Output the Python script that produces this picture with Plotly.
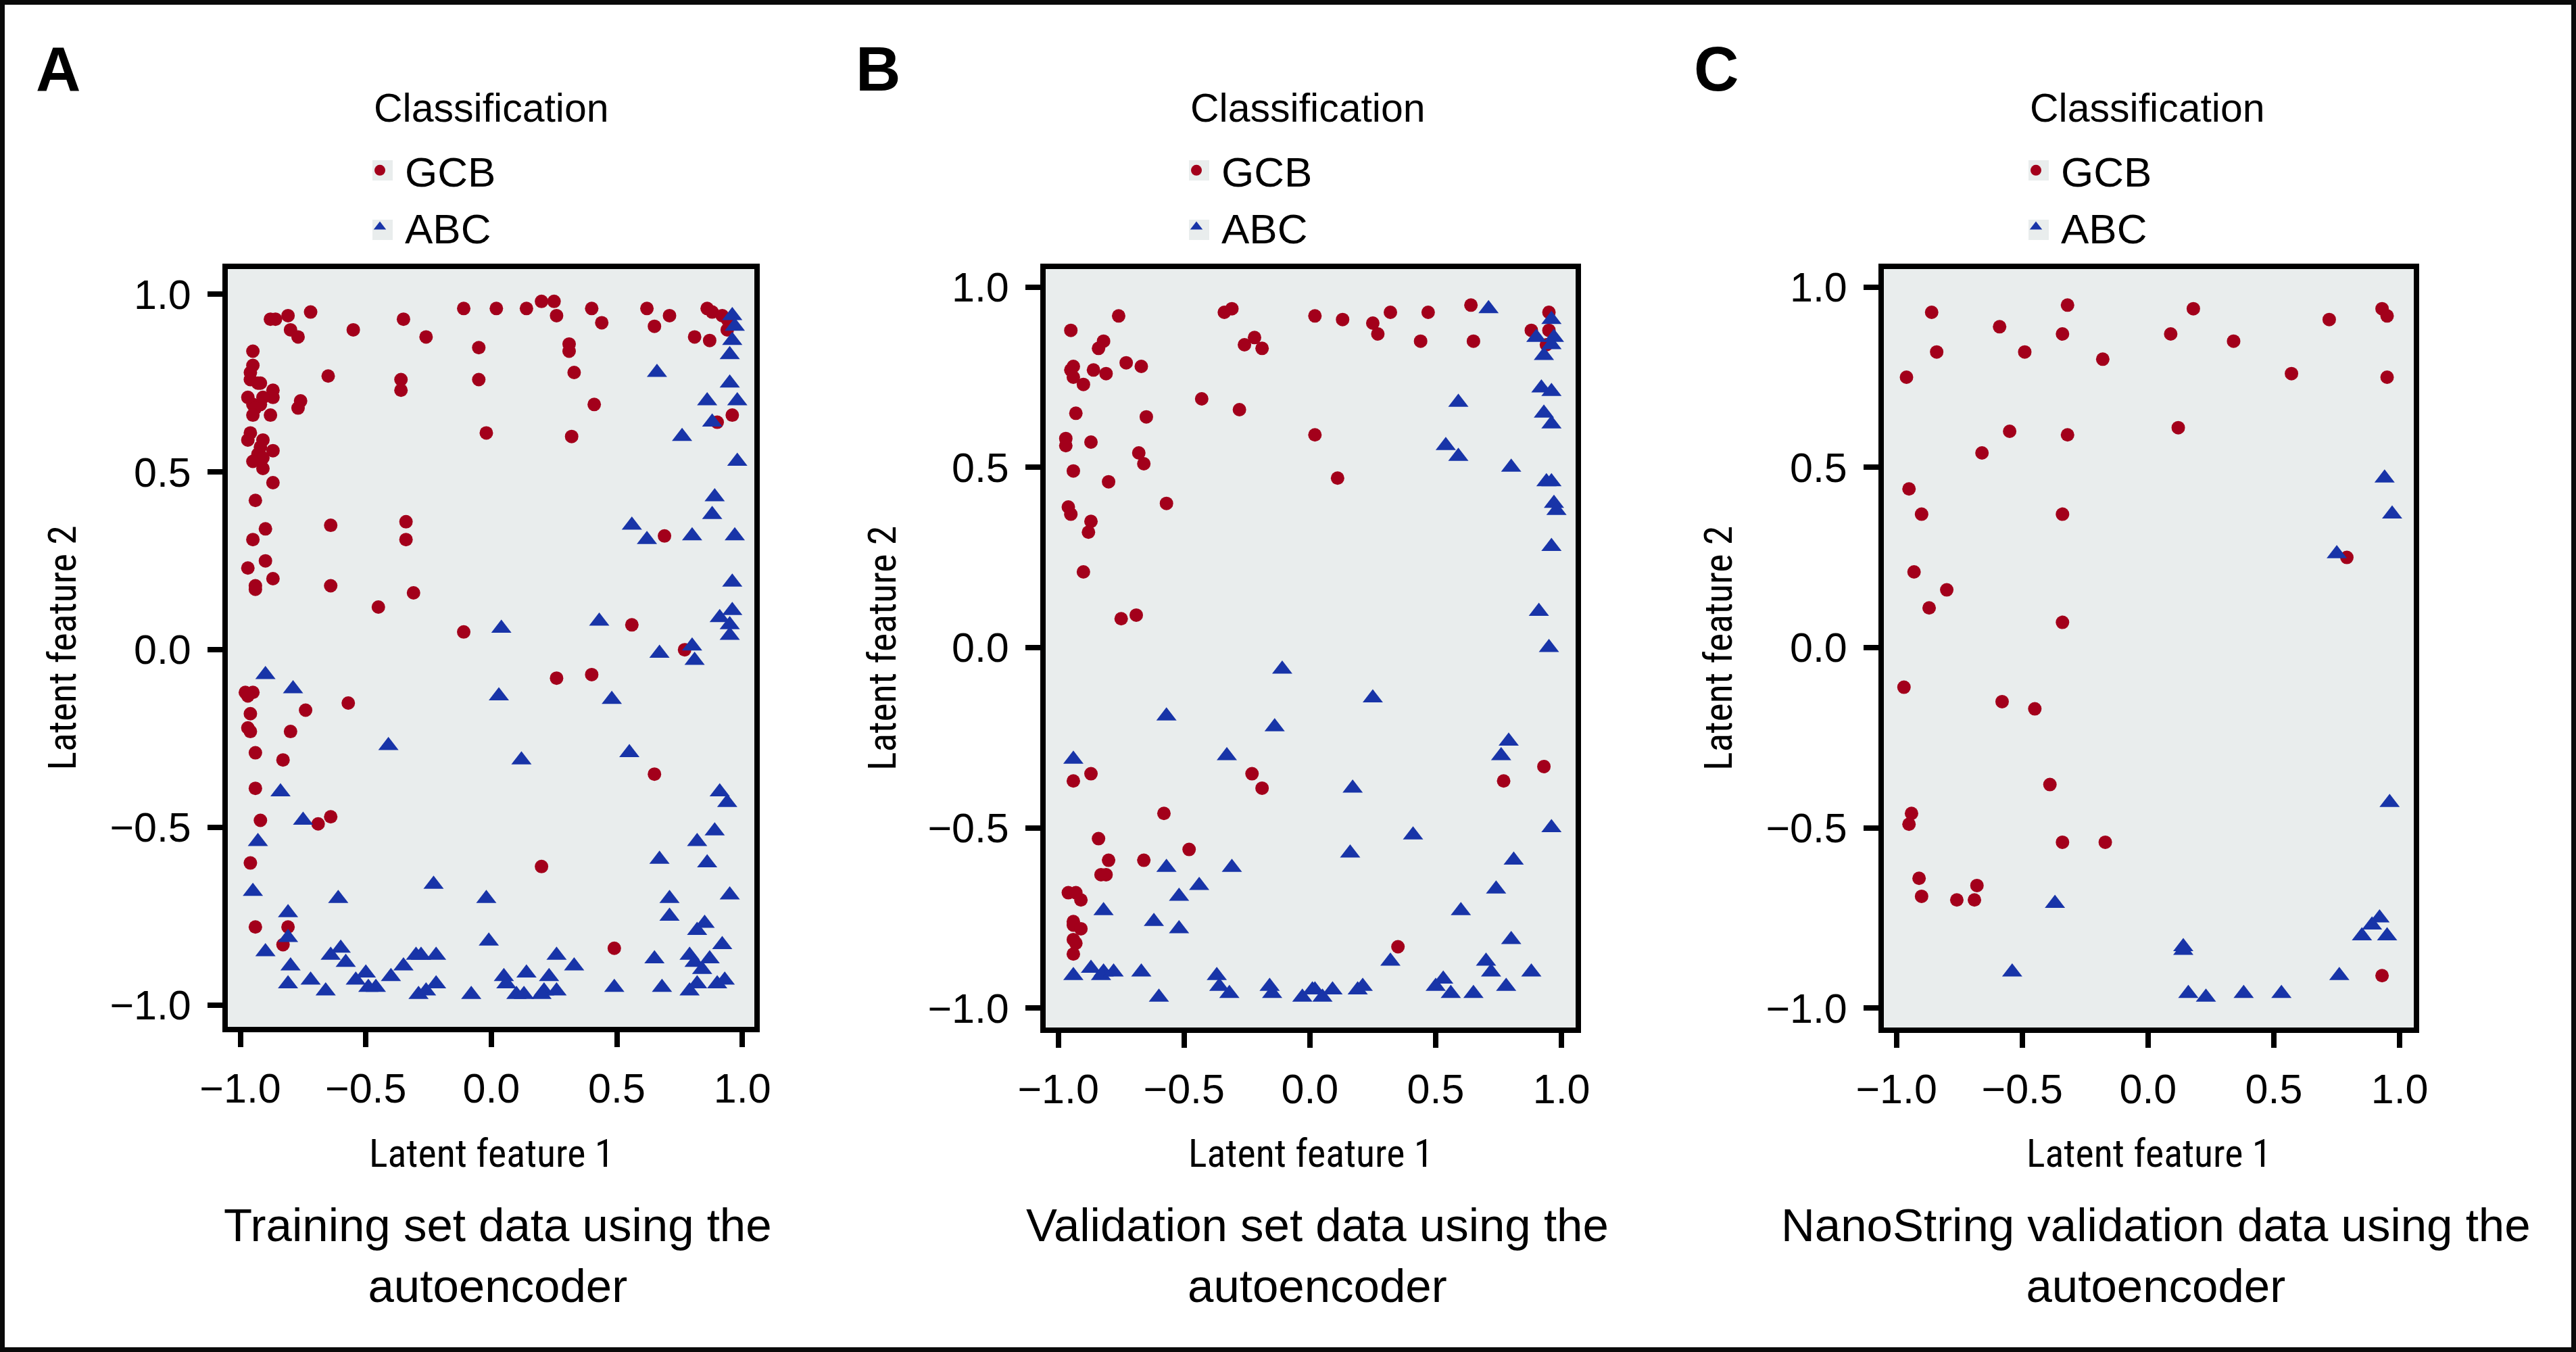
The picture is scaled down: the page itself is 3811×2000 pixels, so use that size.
import plotly.graph_objects as go

W, H = 3811, 2000

# ---------------- data ----------------
# Panel A: training set
a_gcb_x = [-0.88, -0.86, -0.81, -0.72, -0.80, -0.77, -0.55, -0.35, -0.26, -0.11, 0.02, 0.14, 0.20, 0.25, 0.26,
           0.40, 0.44, 0.62, 0.65, 0.71, 0.86, 0.88, 0.92, 0.94, 0.95, 0.94, 0.81, 0.87, -0.05, 0.31, 0.31,
           -0.95, -0.95, -0.96, -0.96, -0.93, -0.92, -0.87, -0.97, -0.87, -0.91, -0.95, -0.92, -0.94, -0.95,
           -0.88, -0.76, -0.77, -0.65, -0.36, -0.36, -0.05, 0.33, 0.41, 0.96, 0.90, -0.96, -0.97, -0.91, -0.92,
           -0.93, -0.87, -0.91, -0.95, -0.91, -0.87, -0.94, -0.90, -0.95, -0.64, -0.34, -0.34, -0.97, -0.90,
           -0.87, -0.94, -0.94, -0.64, -0.31, -0.45, -0.02, 0.32, 0.56, -0.11, 0.69, 0.77, 0.26, 0.40, -0.98,
           -0.95, -0.97, -0.57, -0.96, -0.74, -0.97, -0.96, -0.80, -0.94, -0.83, -0.94, 0.65, -0.92, -0.69,
           -0.64, -0.96, 0.20, -0.94, -0.81, -0.83, 0.49]
a_gcb_y = [0.93, 0.93, 0.94, 0.95, 0.90, 0.88, 0.90, 0.93, 0.88, 0.96, 0.96, 0.96, 0.98, 0.98, 0.94,
           0.96, 0.92, 0.96, 0.91, 0.94, 0.96, 0.95, 0.94, 0.93, 0.92, 0.90, 0.88, 0.87, 0.85, 0.86, 0.84,
           0.84, 0.80, 0.78, 0.76, 0.75, 0.75, 0.73, 0.71, 0.71, 0.71, 0.69, 0.69, 0.68, 0.66,
           0.66, 0.70, 0.68, 0.77, 0.76, 0.73, 0.76, 0.78, 0.69, 0.66, 0.64, 0.61, 0.59, 0.59, 0.57,
           0.55, 0.56, 0.54, 0.53, 0.51, 0.47, 0.42, 0.34, 0.31, 0.35, 0.36, 0.31, 0.23, 0.25,
           0.20, 0.18, 0.17, 0.18, 0.16, 0.12, 0.61, 0.60, 0.07, 0.05, 0.32, 0.00, -0.08, -0.07, -0.12,
           -0.12, -0.13, -0.15, -0.18, -0.17, -0.22, -0.23, -0.23, -0.29, -0.31, -0.39, -0.35, -0.48, -0.49,
           -0.47, -0.60, -0.61, -0.78, -0.78, -0.83, -0.84]
a_abc_x = [0.96, 0.97, 0.96, 0.95, 0.66, 0.95, 0.86, 0.98, 0.88, 0.76, 0.98, 0.89, 0.88, 0.56, 0.62, 0.80,
           0.97, 0.96, 0.96, 0.91, 0.95, 0.95, 0.04, 0.43, 0.67, 0.80, 0.81, -0.90, -0.79, 0.03, 0.48, -0.41,
           0.12, 0.55, -0.84, 0.91, 0.94, -0.75, 0.89, 0.82, -0.93, 0.67, 0.86, -0.95, -0.61, -0.23, -0.02,
           0.71, 0.95, -0.81, 0.71, 0.85, 0.82, 0.92, -0.81, -0.90, -0.60, -0.01, -0.64, -0.58, -0.80, -0.30,
           -0.28, -0.22, -0.35, 0.26, 0.33, 0.65, 0.79, 0.87, 0.81, 0.84, -0.72, -0.81, -0.66, -0.54, -0.50,
           -0.49, -0.46, -0.40, -0.29, -0.26, -0.22, -0.08, 0.05, 0.06, 0.10, 0.13, 0.14, 0.23, 0.21, 0.26,
           0.49, 0.68, 0.79, 0.82, 0.90, 0.93, 0.20]
a_abc_y = [0.94, 0.91, 0.87, 0.83, 0.78, 0.75, 0.70, 0.70, 0.64, 0.60, 0.53, 0.43, 0.38, 0.35, 0.31, 0.32,
           0.32, 0.19, 0.11, 0.09, 0.07, 0.04, 0.06, 0.08, -0.01, 0.01, -0.03, -0.07, -0.11, -0.13, -0.14, -0.27,
           -0.31, -0.29, -0.40, -0.40, -0.43, -0.48, -0.51, -0.54, -0.54, -0.59, -0.60, -0.68, -0.70, -0.66, -0.70,
           -0.70, -0.69, -0.74, -0.75, -0.77, -0.79, -0.83, -0.81, -0.85, -0.84, -0.82, -0.86, -0.88, -0.89, -0.86,
           -0.86, -0.86, -0.89, -0.86, -0.89, -0.87, -0.86, -0.87, -0.88, -0.90, -0.93, -0.94, -0.96, -0.93, -0.91,
           -0.95, -0.95, -0.92, -0.97, -0.96, -0.94, -0.97, -0.92, -0.94, -0.97, -0.97, -0.91, -0.92, -0.96, -0.96,
           -0.95, -0.95, -0.96, -0.94, -0.94, -0.93, -0.97]

# Panel B: validation set
b_gcb_x = [-0.95, -0.76, -0.82, -0.84, -0.94, -0.95, -0.94, -0.90, -0.86, -0.81, -0.73, -0.67, -0.34, -0.31,
           -0.26, -0.22, -0.19, 0.02, 0.13, 0.25, 0.27, 0.32, 0.47, 0.44, 0.64, 0.65, 0.95, 0.88, 0.95, 0.94,
           -0.43, -0.28, -0.93, -0.65, -0.97, -0.97, -0.87, 0.02, -0.68, -0.66, -0.94, -0.80, 0.11, -0.57,
           -0.96, -0.95, -0.87, -0.88, -0.90, -0.75, -0.69,
           -0.87, -0.94, -0.23, -0.19, 0.77, 0.93, -0.58, -0.84, -0.48, -0.80, -0.66, -0.83, -0.81, -0.96,
           -0.93, -0.91, -0.94, -0.94, -0.91, -0.94, -0.93, -0.94, 0.35]
b_gcb_y = [0.88, 0.92, 0.85, 0.83, 0.78, 0.77, 0.75, 0.73, 0.77, 0.76, 0.79, 0.78, 0.93, 0.94,
           0.84, 0.86, 0.83, 0.92, 0.91, 0.90, 0.87, 0.93, 0.93, 0.85, 0.95, 0.85, 0.93, 0.88, 0.88, 0.84,
           0.69, 0.66, 0.65, 0.64, 0.58, 0.56, 0.57, 0.59, 0.54, 0.51, 0.49, 0.46, 0.47, 0.40,
           0.39, 0.37, 0.35, 0.32, 0.21, 0.08, 0.09,
           -0.35, -0.37, -0.35, -0.39, -0.37, -0.33, -0.46, -0.53, -0.56, -0.59, -0.59, -0.63, -0.63, -0.68,
           -0.68, -0.70, -0.76, -0.77, -0.78, -0.81, -0.82, -0.85, -0.83]
b_abc_x = [0.71, 0.96, 0.90, 0.97, 0.96, 0.93, 0.92, 0.96, 0.59, 0.93, 0.96, 0.54, 0.59, 0.80, 0.94, 0.96,
           0.97, 0.98, 0.96, 0.91, 0.95,
           -0.11, 0.25, -0.57, -0.14, 0.79, 0.76, -0.94, -0.33, 0.17, 0.96, 0.41, 0.16, 0.81, -0.57, -0.31,
           -0.44, -0.52, 0.74, -0.82, 0.60, -0.62, -0.52, 0.80, 0.32, 0.70, 0.72, 0.88, -0.94, -0.87, -0.82,
           -0.83, -0.78, -0.67, -0.60, -0.37, -0.36, -0.32, -0.16, -0.15, -0.03, 0.01, 0.02, 0.05, 0.09, 0.19,
           0.21, 0.50, 0.53, 0.56, 0.65, 0.78]
b_abc_y = [0.94, 0.91, 0.86, 0.86, 0.84, 0.81, 0.72, 0.71, 0.68, 0.65, 0.62, 0.56, 0.53, 0.50, 0.46, 0.46,
           0.40, 0.38, 0.28, 0.10, 0.00,
           -0.06, -0.14, -0.19, -0.22, -0.26, -0.30, -0.31, -0.30, -0.39, -0.50, -0.52, -0.57, -0.59, -0.61, -0.61,
           -0.66, -0.69, -0.67, -0.73, -0.73, -0.76, -0.78, -0.81, -0.87, -0.87, -0.90, -0.90, -0.91, -0.89, -0.90,
           -0.91, -0.90, -0.90, -0.97, -0.91, -0.94, -0.96, -0.94, -0.96, -0.97, -0.95, -0.95, -0.97, -0.95, -0.95,
           -0.94, -0.94, -0.92, -0.96, -0.96, -0.94]

# Panel C: NanoString validation
c_gcb_x = [-0.86, -0.32, 0.18, 0.93, 0.95, 0.72, -0.59, -0.34, 0.09, 0.34, -0.84, -0.49, -0.18, -0.96, 0.57,
           0.95, 0.12, -0.55, -0.32, -0.66, -0.95, -0.90, -0.34, 0.79, -0.93, -0.80, -0.87, -0.34,
           -0.97, -0.58, -0.45, -0.39, -0.94, -0.95, -0.34, -0.17, -0.91, -0.90, -0.68, -0.69, -0.76, 0.93]
c_gcb_y = [0.93, 0.95, 0.94, 0.94, 0.92, 0.91, 0.89, 0.87, 0.87, 0.85, 0.82, 0.82, 0.80, 0.75, 0.76,
           0.75, 0.61, 0.60, 0.59, 0.54, 0.44, 0.37, 0.37, 0.25, 0.21, 0.16, 0.11, 0.07,
           -0.11, -0.15, -0.17, -0.38, -0.46, -0.49, -0.54, -0.54, -0.64, -0.69, -0.66, -0.70, -0.70, -0.91]
c_abc_x = [0.94, 0.97, 0.75, 0.96, -0.37, 0.92, 0.89, 0.85, 0.95, 0.14, 0.14, -0.54, 0.76, 0.16, 0.23,
           0.38, 0.53]
c_abc_y = [0.47, 0.37, 0.26, -0.43, -0.71, -0.75, -0.77, -0.80, -0.80, -0.83, -0.84, -0.90, -0.91, -0.96,
           -0.97, -0.96, -0.96]

panel_letters = ["A", "B", "C"]
subtitles = ["Training set data using the<br>autoencoder",
             "Validation set data using the<br>autoencoder",
             "NanoString validation data using the<br>autoencoder"]
class_names = ["GCB", "ABC"]
legend_title = "Classification"
x_title = "Latent feature 1"
y_title = "Latent feature 2"
tick_vals = [-1.0, -0.5, 0.0, 0.5, 1.0]

# ---------------- styling ----------------
RED = "#A3001B"
BLUE = "#1834A8"
PANEL_BG = "#E9EDED"
FONT = "Liberation Sans, Arial, Helvetica, sans-serif"
NARROW = "Liberation Sans Narrow, Arial Narrow, Roboto Condensed, DejaVu Sans Condensed, Liberation Sans, sans-serif"


def px_x(p):
    return p / W


def px_y(p):
    return 1 - p / H


# panel inner boxes in pixels: (left, right, top, bottom)
boxes = [(337, 1116, 398, 1519), (1547, 2331, 398, 1520), (2787, 3571, 398, 1520)]
xranges = [[-1.050, 1.048], [-1.050, 1.056], [-1.050, 1.056]]
yranges = [[-1.061, 1.071], [-1.054, 1.050], [-1.054, 1.050]]
key_x = [566, 1774, 3016]          # centre of legend key
letter_x = [86, 1299, 2539]
ytitle_x = [92, 1305, 2542]
KEY_Y = [252, 340]

data = [
    (a_gcb_x, a_gcb_y, a_abc_x, a_abc_y),
    (b_gcb_x, b_gcb_y, b_abc_x, b_abc_y),
    (c_gcb_x, c_gcb_y, c_abc_x, c_abc_y),
]

fig = go.Figure()
layout = {}
annotations = []
shapes = []
ITEMW = 64

for i in range(3):
    sfx = "" if i == 0 else str(i + 1)
    xa, ya = "x" + sfx, "y" + sfx
    lg = "legend" + sfx
    gx, gy, bx, by = data[i]
    fig.add_trace(go.Scatter(x=gx, y=gy, mode="markers", name=class_names[0], xaxis=xa, yaxis=ya,
                             legend=lg,
                             marker=dict(symbol="circle", size=20, color=RED, line=dict(width=0))))
    fig.add_trace(go.Scatter(x=bx, y=by, mode="markers", name=class_names[1], xaxis=xa, yaxis=ya,
                             legend=lg,
                             marker=dict(symbol="triangle-up", size=26, color=BLUE, line=dict(width=0))))
    l, r, t, b = boxes[i]
    axis_common = dict(showgrid=False, zeroline=False, showline=True, mirror=True, linecolor="black",
                       linewidth=8, ticks="outside", ticklen=22, tickwidth=8, tickcolor="black",
                       tickvals=tick_vals, tickformat=".1f",
                       tickfont=dict(family=FONT, size=61, color="black"))
    layout["xaxis" + sfx] = dict(domain=[px_x(l), px_x(r)], range=xranges[i], anchor=ya,
                                 ticklabelstandoff=9, **axis_common)
    layout["yaxis" + sfx] = dict(domain=[px_y(b), px_y(t)], range=yranges[i], anchor=xa,
                                 ticklabelstandoff=12, **axis_common)
    cx = (l + r) / 2
    # x-axis title
    annotations.append(dict(text=x_title, xref="paper", yref="paper", x=px_x(cx), y=px_y(1706),
                            xanchor="center", yanchor="middle", showarrow=False,
                            font=dict(family=NARROW, size=58, color="black")))
    # y-axis title
    annotations.append(dict(text=y_title, xref="paper", yref="paper", x=px_x(ytitle_x[i]), y=px_y((t + b) / 2),
                            xanchor="center", yanchor="middle", showarrow=False, textangle=-90,
                            font=dict(family=NARROW, size=58, color="black")))
    # subtitle
    annotations.append(dict(text=subtitles[i], xref="paper", yref="paper", x=px_x(cx + 10), y=px_y(1857),
                            xanchor="center", yanchor="middle", showarrow=False,
                            font=dict(family=FONT, size=69, color="black")))
    # panel letter
    annotations.append(dict(text="<b>" + panel_letters[i] + "</b>", xref="paper", yref="paper",
                            x=px_x(letter_x[i]), y=px_y(102), xanchor="center", yanchor="middle",
                            showarrow=False, font=dict(family=FONT, size=92, color="black")))
    # legend title
    annotations.append(dict(text=legend_title, xref="paper", yref="paper", x=px_x(key_x[i] - 15),
                            y=px_y(160), xanchor="left", yanchor="middle", showarrow=False,
                            font=dict(family=FONT, size=59, color="black")))
    # legend keys background
    for ky in KEY_Y:
        shapes.append(dict(type="rect", xref="paper", yref="paper", layer="above",
                           x0=px_x(key_x[i] - 15), x1=px_x(key_x[i] + 15),
                           y0=px_y(ky + 15), y1=px_y(ky - 15),
                           line=dict(width=0), fillcolor=PANEL_BG))
    # legend
    layout[lg] = dict(x=px_x(key_x[i] - ITEMW / 2 - 9), y=px_y(205), xanchor="left", yanchor="top",
                      bgcolor="rgba(0,0,0,0)", borderwidth=0, itemwidth=ITEMW, itemsizing="trace",
                      font=dict(family=FONT, size=62, color="black"))

# outer figure frame
shapes.append(dict(type="rect", xref="paper", yref="paper", x0=0, x1=1, y0=0, y1=1,
                   line=dict(color="#0A0A0A", width=14), fillcolor="rgba(0,0,0,0)"))

fig.update_layout(
    width=W, height=H,
    margin=dict(l=0, r=0, t=0, b=0, autoexpand=False),
    paper_bgcolor="white",
    plot_bgcolor=PANEL_BG,
    showlegend=True,
    annotations=annotations,
    shapes=shapes,
    font=dict(family=FONT, color="black"),
    **layout,
)

fig.write_html("out.html", config={"displayModeBar": False},
               post_script="document.body.style.margin='0px';")
